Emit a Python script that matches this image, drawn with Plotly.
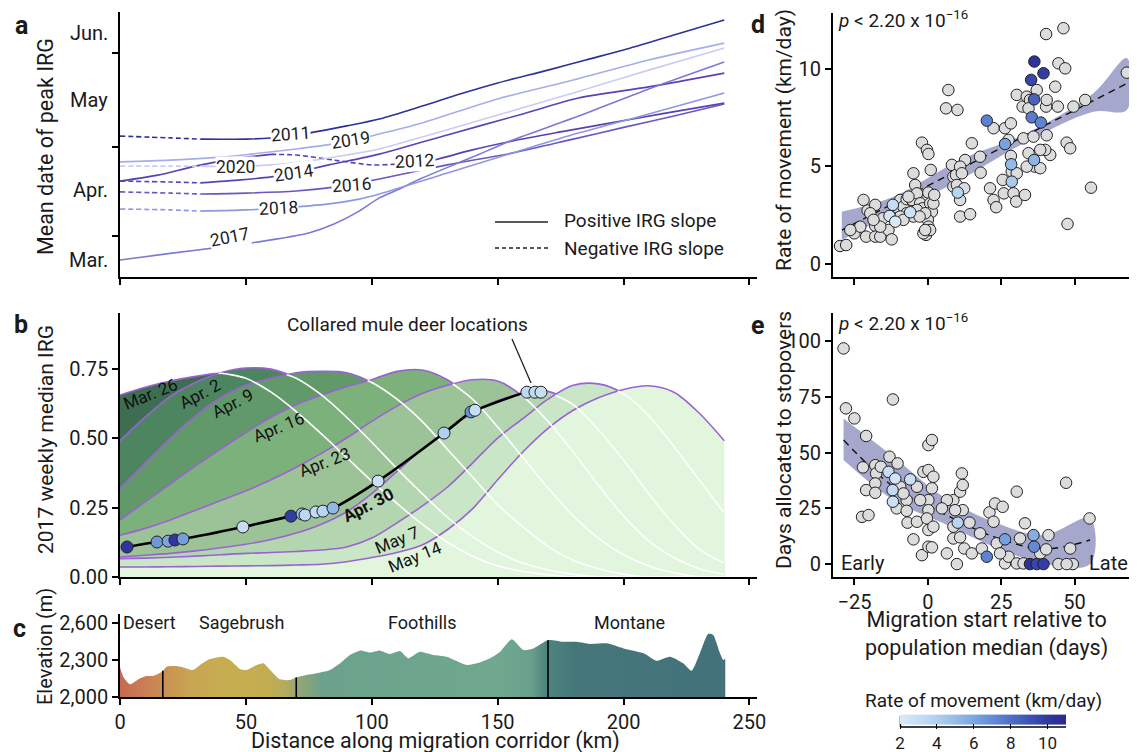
import numpy as np
import plotly.graph_objects as go

W, H = 1137, 752
OFF = 8  # page body margin offset of the plot div
def px(x): return (x - OFF) / W
def py(y): return 1 - (y - OFF) / H

FONT = "Roboto"
TXT = "#1a1a1a"

# ---------------- panel a : mean date of peak IRG (days after Mar. 1)
a_km_2011 = [0, 20, 32, 50, 65, 75, 90, 103, 120, 135, 150, 170, 185, 200, 220, 240]
a_day_2011 = [41.3, 40.7, 40.3, 40.3, 41.0, 42.3, 44.7, 47.0, 51.3, 55.3, 59.0, 63.3, 66.7, 70.0, 75.0, 80.0]
a_km_2012 = [0, 15, 30, 45, 60, 70, 85, 100, 110, 117, 125, 140, 156, 175, 195, 215, 240]
a_day_2012 = [26.3, 28.3, 31.3, 33.7, 35.2, 35.0, 33.3, 31.7, 32.0, 32.7, 33.3, 36.7, 39.7, 42.7, 45.7, 48.7, 52.3]
a_km_2014 = [0, 20, 32, 48, 60, 69, 83, 103, 130, 160, 182, 210, 240]
a_day_2014 = [26.3, 26.0, 25.7, 26.7, 27.7, 29.0, 31.7, 35.3, 41.7, 48.7, 54.0, 57.7, 62.3]
a_km_2016 = [0, 20, 32, 50, 70, 85, 95, 103, 130, 156, 180, 200, 220, 240]
a_day_2016 = [22.7, 22.3, 22.0, 22.3, 23.0, 24.3, 25.7, 27.0, 31.7, 35.7, 40.3, 44.2, 48.0, 52.0]
a_km_2017 = [0, 20, 40, 60, 75, 85, 95, 103, 110, 120, 140, 156, 180, 209, 240]
a_day_2017 = [0.0, 2.2, 4.3, 6.7, 9.0, 12.0, 16.3, 20.7, 23.3, 27.3, 34.3, 40.0, 47.3, 56.7, 66.0]
a_km_2018 = [0, 20, 32, 50, 63, 83, 95, 103, 130, 156, 182, 210, 240]
a_day_2018 = [17.0, 16.7, 16.3, 16.7, 17.3, 18.7, 20.3, 22.0, 29.0, 35.7, 42.3, 48.7, 55.7]
a_km_2019 = [0, 20, 40, 52, 70, 85, 95, 103, 120, 150, 180, 210, 240]
a_day_2019 = [32.7, 33.3, 34.3, 35.3, 37.0, 38.7, 40.3, 42.0, 45.7, 53.7, 60.0, 66.7, 72.3]
a_km_2020 = [0, 20, 32, 46, 60, 75, 90, 103, 120, 150, 180, 210, 240]
a_day_2020 = [31.3, 31.3, 31.3, 31.2, 31.7, 33.0, 35.0, 37.0, 41.0, 48.3, 55.7, 63.3, 70.7]
# stretches with negative IRG slope (dashed)
a_neg = {"2011": [(0, 32)], "2012": [(60, 125)], "2014": [(0, 32)], "2016": [(0, 32)],
         "2017": [], "2018": [(0, 32)], "2019": [], "2020": [(0, 32)]}
a_colors = {"2011": "#2e3196", "2012": "#5a40b2", "2014": "#5b42b6", "2016": "#6a55c2",
            "2017": "#7b79d6", "2018": "#8d98e1", "2019": "#a6aeea", "2020": "#c8cef3"}
a_labels = {"2011": (67.9, 42.0, -4), "2019": (91.7, 40.0, -9), "2020": (46.0, 31.0, 0),
            "2014": (69.0, 29.0, -8), "2016": (92.0, 25.0, -4), "2018": (63.0, 17.3, -3),
            "2017": (43.7, 7.7, -11), "2012": (117.0, 33.0, -3)}
a_tick_days = [8.0, 37.7, 69.0]
a_month_labels = ["Mar.", "Apr.", "May", "Jun."]
a_month_days = [0.0, 23.3, 53.3, 75.7]

a_series = {"2011": (a_km_2011, a_day_2011), "2012": (a_km_2012, a_day_2012),
            "2014": (a_km_2014, a_day_2014), "2016": (a_km_2016, a_day_2016),
            "2017": (a_km_2017, a_day_2017), "2018": (a_km_2018, a_day_2018),
            "2019": (a_km_2019, a_day_2019), "2020": (a_km_2020, a_day_2020)}

# ---------------- panel b : weekly median IRG along corridor (2017)
b_km = list(range(0, 250, 10))
b_weeks = ["Mar. 26", "Apr. 2", "Apr. 9", "Apr. 16", "Apr. 23", "Apr. 30", "May 7", "May 14"]
b_irg_mar26 = [0.655, 0.683, 0.705, 0.722, 0.733, 0.715, 0.665, 0.595, 0.515, 0.43, 0.345, 0.265, 0.19, 0.125, 0.075, 0.04, 0.02, 0.008, 0, 0, 0, 0, 0, 0, 0]
b_irg_apr2 = [0.49, 0.575, 0.65, 0.70, 0.735, 0.752, 0.748, 0.715, 0.655, 0.575, 0.485, 0.39, 0.30, 0.215, 0.145, 0.09, 0.05, 0.025, 0.01, 0, 0, 0, 0, 0, 0]
b_irg_apr9 = [0.32, 0.41, 0.50, 0.58, 0.645, 0.69, 0.715, 0.735, 0.74, 0.735, 0.70, 0.64, 0.56, 0.46, 0.36, 0.26, 0.18, 0.11, 0.06, 0.03, 0.01, 0, 0, 0, 0]
b_irg_apr16 = [0.205, 0.27, 0.335, 0.40, 0.46, 0.52, 0.575, 0.62, 0.655, 0.685, 0.71, 0.74, 0.745, 0.71, 0.64, 0.54, 0.43, 0.32, 0.22, 0.14, 0.08, 0.04, 0.015, 0, 0]
b_irg_apr23 = [0.15, 0.175, 0.205, 0.24, 0.275, 0.31, 0.35, 0.395, 0.445, 0.50, 0.56, 0.615, 0.66, 0.69, 0.71, 0.705, 0.65, 0.56, 0.45, 0.33, 0.22, 0.13, 0.07, 0.03, 0.01]
b_irg_apr30 = [0.072, 0.078, 0.085, 0.094, 0.105, 0.118, 0.135, 0.158, 0.19, 0.235, 0.30, 0.38, 0.46, 0.53, 0.59, 0.635, 0.66, 0.668, 0.62, 0.53, 0.42, 0.30, 0.19, 0.10, 0.05]
b_irg_may7 = [0.066, 0.068, 0.071, 0.075, 0.08, 0.085, 0.088, 0.092, 0.097, 0.108, 0.14, 0.195, 0.255, 0.323, 0.41, 0.50, 0.57, 0.64, 0.69, 0.695, 0.66, 0.58, 0.47, 0.35, 0.23]
b_irg_may14 = [0.036, 0.036, 0.037, 0.038, 0.039, 0.04, 0.041, 0.043, 0.046, 0.055, 0.07, 0.088, 0.115, 0.17, 0.245, 0.35, 0.45, 0.535, 0.60, 0.645, 0.675, 0.688, 0.665, 0.59, 0.49]
b_fill_colors = ["#3d6e52", "#4e8561", "#61996b", "#7db17c", "#9cc398", "#b3d5af", "#c9e7c6", "#e1f6dd"]
b_label_pos = [(12, 0.66, -22), (31.6, 0.66, -28), (45, 0.625, -27), (63, 0.54, -22),
               (81.4, 0.414, -21), (98.5, 0.26, -27), (110, 0.133, -22), (117, 0.072, -22)]
b_deer_km = [2.8, 14.7, 19.1, 21.8, 25.0, 48.8, 67.9, 72.3, 73.5, 77.8, 80.6, 84.6, 102.5, 128.7, 139.4, 141.0, 161.6, 164.8, 167.2]
b_deer_irg = [0.108, 0.126, 0.129, 0.133, 0.137, 0.180, 0.219, 0.227, 0.223, 0.234, 0.237, 0.248, 0.345, 0.518, 0.594, 0.600, 0.665, 0.665, 0.665]
b_deer_rate = [10.2, 6.5, 6.0, 10.0, 6.3, 3.0, 9.8, 5.0, 3.5, 3.2, 3.6, 5.2, 2.8, 4.0, 6.8, 3.0, 3.3, 3.2, 3.0]

# ---------------- panel c : elevation profile
c_km = [0, 1.3, 4, 8, 10.6, 13, 16.7, 18.5, 22.5, 26.5, 29, 31.8, 35.7, 41, 43.7, 47.7, 50.3, 54.3, 57, 59.6,
        63.5, 67.5, 70.2, 74, 78, 83.4, 87.4, 91.3, 95.3, 99.3, 103.3, 107.2, 111.2, 114.5, 119, 124.4, 129.7,
        137.7, 141.7, 147, 151, 155.6, 160.2, 164.2, 170.1, 176, 181.4, 186.7, 193.3, 200, 208, 213, 218.4,
        223.7, 227, 230.3, 233.6, 235.6, 238.3, 239.6, 240.4]
c_elev = [2241, 2165, 2103, 2152, 2170, 2170, 2205, 2246, 2251, 2232, 2219, 2260, 2308, 2327, 2300, 2227, 2219, 2260, 2273, 2219,
          2143, 2138, 2160, 2178, 2192, 2219, 2273, 2341, 2376, 2360, 2376, 2349, 2373, 2314, 2367, 2341, 2327,
          2260, 2273, 2314, 2367, 2468, 2381, 2394, 2462, 2448, 2448, 2430, 2435, 2394, 2354, 2294, 2327,
          2273, 2213, 2354, 2511, 2503, 2354, 2300, 2313]
c_zone_bounds = [17, 70, 170]
c_zones = ["Desert", "Sagebrush", "Foothills", "Montane"]
c_zone_x = [149, 241, 422, 629]
c_grad_km = [0, 8, 18, 28, 40, 58, 66, 72, 80, 150, 163, 169, 180, 240]
c_grad_col = ["#c66a52", "#c97a54", "#cb9053", "#c8a552", "#c6ad50", "#c4ad50", "#b3ab5e", "#8ea676",
              "#6ca28b", "#6fa78f", "#69a18c", "#4f8580", "#45777a", "#43727a"]

# ---------------- panel d : rate of movement vs migration start
d_grey_x = [-29.9, -27.8, -25.0, -21.9, -21.0, -20.5, -17.9, -17.9, -17.9, -16.2, -15.3, -13.4, -12.8, -12.3, -10.6, -9.4, -8.3, -7.2, -7.2, -5.4,
            -4.9, -4.3, -4.9, -3.7, -2.6, -1.8, -2.0, -0.3, 0.2, 0.2, 0.8, 1.0, 1.4, 0.0, 0.2, -0.6, 0.8, -1.5, 1.9, 2.2,
            7.0, 6.2, 10.1, 8.2, 8.7, 8.7, 9.6, 9.9, 11.0, 11.0, 12.4, 12.7, 14.4, 15.0, 17.8, 18.0, 21.2, 22.4, 23.3, 22.4,
            26.3, 28.3, 25.5, 28.3, 28.6, 25.9, 29.2, 30.1, 33.1, 30.3, 32.3, 33.7, 34.8, 32.6, 34.3, 36.0, 36.5, 38.3, 37.1, 40.3,
            40.3, 40.5, 41.7, 40.0, 43.4, 44.3, 46.2, 44.5, 46.8, 47.3, 48.5, 49.6, 53.6, 55.6, 47.6, 67.8,
            -6.6, -3.7, -0.9, -0.9, -2.8, -9.4, -8.3, -16.2, -19.6, -18.5, -23.0, -26.4, 11.0, 11.6, 27.5, 30.3, 33.7, 38.3, 40.5, 34.3]
d_grey_y = [0.92, 0.97, 1.57, 3.28, 1.40, 2.74, 3.03, 1.95, 1.40, 1.40, 2.34, 1.74, 2.46, 1.26, 2.91, 3.28, 2.94, 2.60, 3.32, 3.28,
            4.65, 4.05, 2.43, 3.62, 3.11, 2.85, 6.22, 5.85, 5.64, 3.66, 3.11, 4.82, 2.68, 2.26, 1.91, 1.49, 1.74, 1.57, 3.10, 3.54,
            8.92, 7.98, 7.90, 5.08, 3.97, 4.48, 4.56, 4.05, 3.28, 2.43, 3.88, 5.33, 2.55, 6.19, 5.50, 4.68, 3.88, 3.28, 2.91, 6.96,
            6.96, 7.21, 4.31, 5.54, 4.74, 3.62, 3.62, 3.20, 3.54, 8.67, 8.07, 8.58, 8.41, 6.44, 5.68, 6.53, 4.99, 4.91, 8.92, 11.79,
            8.07, 6.60, 5.59, 5.85, 9.09, 8.07, 12.09, 10.29, 10.03, 6.22, 5.93, 8.07, 8.41, 3.91, 2.05, 9.81,
            3.45, 2.77, 2.60, 1.74, 2.43, 2.43, 2.26, 1.91, 2.60, 2.26, 1.91, 1.74, 4.99, 4.65, 6.36, 4.65, 4.99, 5.85, 8.41, 7.98]
d_col_x = [-11.9, -13.05, -11.1, -6.0, 10.2, 20.1, 26.3, 28.4, 28.6, 36.3, 39.4, 35.2, 36.2, 35.4, 38.5, 36.2]
d_col_y = [3.03, 2.46, 2.17, 2.65, 3.66, 7.35, 6.15, 5.11, 4.22, 10.38, 9.78, 9.44, 8.44, 7.52, 7.25, 5.33]
d_fit_x = [-29.3, 67.8]
d_fit_y = [1.74, 9.26]
d_band_x = [-29.3, -11.7, 11.0, 33.7, 56.4, 67.8]
d_band_hi = [2.68, 3.45, 5.33, 6.70, 8.75, 10.55]
d_band_lo = [1.23, 2.60, 4.31, 6.27, 7.81, 7.90]

# ---------------- panel e : days at stopovers vs migration start
e_grey_x = [-28.7, -27.9, -25.0, -21.0, -22.1, -22.4, -20.2, -21.0, -17.9, -17.6, -17.9, -17.9, -13.05, -11.9, -10.3, -10.6, -9.4, -7.2, -7.2, -6.9,
            -4.9, -3.7, -3.7, -2.0, -1.5, 0.2, 0.2, 1.4, 1.9, 0.2, 0.2, -0.3, 0.2, 0.2, 1.4, 1.9, 1.4, 6.5, 8.7, 8.7,
            8.7, 9.9, 11.0, 11.6, 11.9, 11.9, 11.0, 12.4, 14.2, 15.0, 17.8, 18.4, 21.0, 22.4, 22.9, 25.5, 23.5, 26.3, 27.5, 30.3,
            31.4, 33.1, 30.3, 32.6, 38.3, 41.1, 40.3, 44.5, 47.1, 48.5, 49.4, 47.3, 55.1, 24.6, 6.5, 9.3, 4.8, -2.6, -8.3, -16.0]
e_grey_y = [96.8, 69.9, 65.4, 57.5, 43.4, 21.2, 22.0, 33.2, 44.4, 40.7, 36.2, 32.0, 48.2, 73.9, 45.2, 25.0, 34.7, 28.7, 23.9, 18.6,
            11.1, 19.0, 34.7, 4.0, 41.4, 42.2, 53.4, 55.7, 39.2, 28.7, 24.2, 20.5, 15.3, 7.8, 7.5, 16.8, 34.0, 4.8, 16.8, 28.7,
            11.5, 0.0, 32.5, 40.7, 35.5, 24.2, 12.0, 7.0, 18.6, 4.8, 13.8, 7.0, 23.2, 19.0, 27.2, 25.7, 9.3, 0.3, 3.3, 32.5,
            11.5, 18.3, 0.3, 0.3, 4.8, 13.0, 6.6, 0.0, 36.5, 7.0, 0.0, 0.0, 20.5, 4.8, 28.7, 24.2, 25.0, 28.7, 31.7, 43.7]
e_col_x = [-13.4, -11.1, -12.0, -11.9, -6.0, 10.2, 20.1, 26.3, 36.0, 36.2, 34.8, 37.1, 39.4]
e_col_y = [41.4, 38.4, 33.2, 28.0, 38.0, 18.6, 3.3, 11.1, 13.0, 7.8, 0.0, 0.0, 0.0]
e_col_rate = [3.0, 2.5, 3.2, 2.8, 2.9, 3.6, 7.3, 6.2, 5.6, 7.0, 10.4, 9.5, 9.8]
e_fit_x = [-28.7, -11.7, 5.3, 22.4, 39.4, 55.3]
e_fit_y = [55.7, 34.7, 22.7, 12.3, 6.8, 10.8]
e_band_x = [-28.7, -11.7, 5.3, 22.4, 39.4, 55.3]
e_band_hi = [65.4, 48.2, 30.2, 19.0, 13.0, 20.5]
e_band_lo = [46.7, 28.7, 18.3, 7.8, 0.3, 0.0]

RATE_SCALE = [[0.0, "#dcebf8"], [0.222, "#b0d0f0"], [0.444, "#7ba6e0"],
              [0.667, "#4f6fc6"], [0.889, "#3038a0"], [1.0, "#2b2a8c"]]
RATE_MIN, RATE_MAX = 2, 11

fig = go.Figure()

# ---------- panel a traces
def segments(km, val, neg):
    km = np.asarray(km, float); val = np.asarray(val, float)
    cuts = sorted(set([km[0], km[-1]] + [b for r in neg for b in r]))
    out = []
    for lo, hi in zip(cuts[:-1], cuts[1:]):
        m = (km >= lo) & (km <= hi)
        dashed = any(lo >= a and hi <= b for a, b in neg)
        out.append((km[m], val[m], dashed))
    return out

for yr, (km, dv) in a_series.items():
    for xs, ys, dashed in segments(km, dv, a_neg[yr]):
        fig.add_trace(go.Scatter(x=xs, y=ys, mode="lines", xaxis="x", yaxis="y",
                                 line=dict(color=a_colors[yr], width=1.6, shape="spline", smoothing=0.8,
                                           dash="5px,3px" if dashed else "solid"),
                                 hoverinfo="skip"))

# ---------- panel b traces
b_curves = [b_irg_mar26, b_irg_apr2, b_irg_apr9, b_irg_apr16, b_irg_apr23, b_irg_apr30, b_irg_may7, b_irg_may14]
PURPLE = "#9c62d3"
for curve, col in zip(b_curves, b_fill_colors):
    fig.add_trace(go.Scatter(x=b_km, y=curve, mode="lines", fill="tozeroy", fillcolor=col,
                             line=dict(color=PURPLE, width=1.6, shape="spline", smoothing=0.9),
                             xaxis="x2", yaxis="y2", hoverinfo="skip"))

def hidden_path(x, y, env):
    xs, ys = [], []
    d = [a - b for a, b in zip(y, env)]
    for k in range(len(x)):
        if k > 0 and ((d[k - 1] < 0) != (d[k] < 0)):
            t = d[k - 1] / (d[k - 1] - d[k])
            xs.append(x[k - 1] + t * (x[k] - x[k - 1]))
            ys.append(y[k - 1] + t * (y[k] - y[k - 1]))
            if d[k] >= 0:
                xs.append(None); ys.append(None)
        if d[k] < 0:
            xs.append(x[k]); ys.append(y[k])
    return xs, ys

for i in range(len(b_curves) - 1):
    env = np.max(np.array(b_curves[i + 1:]), axis=0)
    hx, hy = hidden_path(b_km, b_curves[i], env)
    fig.add_trace(go.Scatter(x=hx, y=hy, mode="lines", connectgaps=False,
                             line=dict(color="white", width=1.6, shape="spline", smoothing=0.9),
                             xaxis="x2", yaxis="y2", hoverinfo="skip"))

fig.add_trace(go.Scatter(x=b_deer_km, y=b_deer_irg, mode="lines",
                         line=dict(color="black", width=2.6, shape="spline", smoothing=0.8),
                         xaxis="x2", yaxis="y2", hoverinfo="skip"))
fig.add_trace(go.Scatter(x=b_deer_km, y=b_deer_irg, mode="markers",
                         marker=dict(size=12, color=b_deer_rate, colorscale=RATE_SCALE, cmin=RATE_MIN, cmax=RATE_MAX,
                                     line=dict(color="#222", width=1)),
                         xaxis="x2", yaxis="y2", hoverinfo="skip"))

# ---------- panel c traces
c_scale = [[k / c_grad_km[-1], c] for k, c in zip(c_grad_km, c_grad_col)]
fig.add_trace(go.Scatter(x=c_km, y=c_elev, mode="lines", fill="tozeroy",
                         fillgradient=dict(type="horizontal", colorscale=c_scale, start=0, stop=c_grad_km[-1]),
                         line=dict(width=0, color="rgba(0,0,0,0)", shape="spline", smoothing=0.6),
                         xaxis="x3", yaxis="y3", hoverinfo="skip"))

# ---------- panel d traces
BAND = "#a6a7cc"
fig.add_trace(go.Scatter(x=d_band_x + d_band_x[::-1], y=d_band_hi + d_band_lo[::-1], fill="toself",
                         fillcolor=BAND, line=dict(width=0, shape="spline"), mode="lines",
                         xaxis="x4", yaxis="y4", hoverinfo="skip"))
fig.add_trace(go.Scatter(x=d_fit_x, y=d_fit_y, mode="lines", line=dict(color="#111", width=1.4, dash="7px,5px"),
                         xaxis="x4", yaxis="y4", hoverinfo="skip"))
fig.add_trace(go.Scatter(x=d_grey_x, y=d_grey_y, mode="markers",
                         marker=dict(size=11.5, color="#dcdcdc", line=dict(color="#222", width=1)),
                         xaxis="x4", yaxis="y4", hoverinfo="skip"))
fig.add_trace(go.Scatter(x=d_col_x, y=d_col_y, mode="markers",
                         marker=dict(size=11.5, color=d_col_y, colorscale=RATE_SCALE, cmin=RATE_MIN, cmax=RATE_MAX,
                                     line=dict(color="#222", width=1),
                                     colorbar=dict(orientation="h", x=px(983), xanchor="center", xref="paper",
                                                   y=py(754), yanchor="bottom", yref="paper", ypad=0, xpad=0,
                                                   len=166 / W, lenmode="fraction", thickness=10,
                                                   outlinewidth=0, tickvals=[2, 4, 6, 8, 10],
                                                   ticks="outside", ticklen=5, tickcolor="black", tickwidth=1.3,
                                                   tickfont=dict(size=17, family=FONT, color=TXT))),
                         xaxis="x4", yaxis="y4", hoverinfo="skip"))

# ---------- panel e traces
fig.add_trace(go.Scatter(x=e_band_x + e_band_x[::-1], y=e_band_hi + e_band_lo[::-1], fill="toself",
                         fillcolor=BAND, line=dict(width=0, shape="spline"), mode="lines",
                         xaxis="x5", yaxis="y5", hoverinfo="skip"))
fig.add_trace(go.Scatter(x=e_fit_x, y=e_fit_y, mode="lines",
                         line=dict(color="#111", width=1.4, dash="7px,5px", shape="spline"),
                         xaxis="x5", yaxis="y5", hoverinfo="skip"))
fig.add_trace(go.Scatter(x=e_grey_x, y=e_grey_y, mode="markers",
                         marker=dict(size=11.5, color="#dcdcdc", line=dict(color="#222", width=1)),
                         xaxis="x5", yaxis="y5", hoverinfo="skip"))
fig.add_trace(go.Scatter(x=e_col_x, y=e_col_y, mode="markers",
                         marker=dict(size=11.5, color=e_col_rate, colorscale=RATE_SCALE, cmin=RATE_MIN, cmax=RATE_MAX,
                                     line=dict(color="#222", width=1)),
                         xaxis="x5", yaxis="y5", hoverinfo="skip"))

# ---------- axes
def ax(domain, rng, **kw):
    base = dict(domain=domain, range=rng, showline=True, linecolor="black", linewidth=1.5,
                ticks="outside", ticklen=6, tickwidth=1.5, tickcolor="black", showgrid=False,
                zeroline=False, automargin=False, tickfont=dict(size=20, family=FONT, color=TXT),
                fixedrange=True)
    base.update(kw)
    return base

XL = [px(120), px(757)]
XR = [px(832.7), px(1133)]
lay = dict(
    xaxis=ax(XL, [0, 253], anchor="y", tickvals=[0, 50, 100, 150, 200, 250], showticklabels=False),
    yaxis=ax([py(277), py(12)], [-5.67, 82.67], anchor="x", tickvals=a_tick_days, showticklabels=False),
    xaxis2=ax(XL, [0, 253], anchor="y2", tickvals=[0, 50, 100, 150, 200, 250], showticklabels=False),
    yaxis2=ax([py(577), py(313)], [0, 0.95], anchor="x2", tickvals=[0, 0.25, 0.5, 0.75],
              ticktext=["0.00", "0.25", "0.50", "0.75"]),
    xaxis3=ax(XL, [0, 253], anchor="y3", tickvals=[0, 50, 100, 150, 200, 250]),
    yaxis3=ax([py(697), py(614)], [2000, 2673], anchor="x3", tickvals=[2000, 2300, 2600],
              ticktext=["2,000", "2,300", "2,600"]),
    xaxis4=ax(XR, [-32.4, 69.9], anchor="y4", tickvals=[-25, 0, 25, 50], showticklabels=False),
    yaxis4=ax([py(277), py(13)], [-0.67, 12.87], anchor="x4", tickvals=[0, 5, 10]),
    xaxis5=ax(XR, [-32.4, 69.9], anchor="y5", tickvals=[-25, 0, 25, 50]),
    yaxis5=ax([py(577), py(313)], [-5.8, 112.7], anchor="x5", tickvals=[0, 25, 50, 75, 100]),
)

ann = []
def T(x, y, text, size=19, xanchor="center", yanchor="middle", angle=0, **kw):
    d = dict(x=x, y=y, xref="paper", yref="paper", text=text, showarrow=False, xanchor=xanchor,
             yanchor=yanchor, textangle=angle, font=dict(size=size, family=FONT, color=TXT))
    d.update(kw)
    ann.append(d)

# panel letters
for letter, (lx, ly) in {"a": (21, 26), "b": (21, 324), "c": (19, 628), "d": (758, 24), "e": (758, 325)}.items():
    T(px(lx), py(ly), f"<b>{letter}</b>", size=25)

# axis titles
T(px(45), py(147), "Mean date of peak IRG", size=21.5, angle=-90)
T(px(46), py(440), "2017 weekly median IRG", size=21, angle=-90)
T(px(45), py(647), "Elevation (m)", size=20, angle=-90)
T(px(435), py(741), "Distance along migration corridor (km)", size=21.5)
T(px(784), py(140), "Rate of movement (km/day)", size=21, angle=-90)
T(px(784), py(440), "Days allocated to stopovers", size=21, angle=-90)
T(px(986), py(634), "Migration start relative to<br>population median (days)", size=21.5)
T(px(983), py(700), "Rate of movement (km/day)", size=19)

# panel a month labels
for lab, dday in zip(a_month_labels, a_month_days):
    ann.append(dict(x=px(110), xref="paper", y=dday, yref="y", text=lab, showarrow=False,
                    xanchor="right", yanchor="middle", font=dict(size=20, family=FONT, color=TXT)))
# panel a year labels
for yr, (lx, ly, ang) in a_labels.items():
    ann.append(dict(x=lx, y=ly, xref="x", yref="y", text=yr, showarrow=False, textangle=ang,
                    bgcolor="white", borderpad=0, font=dict(size=17.5, family=FONT, color="#222")))
# legend
T(px(562), py(221), "Positive IRG slope", size=19, xanchor="left")
T(px(562), py(248), "Negative IRG slope", size=19, xanchor="left")

# panel b labels
for wk, (lx, ly, ang) in zip(b_weeks, b_label_pos):
    txt = f"<b>{wk}</b>" if wk == "Apr. 30" else wk
    ann.append(dict(x=lx, y=ly, xref="x2", yref="y2", text=txt, showarrow=False, textangle=ang,
                    font=dict(size=17, family=FONT, color="#111")))
T(px(407), py(324), "Collared mule deer locations", size=19)

# panel c zone labels
for z, zx in zip(c_zones, c_zone_x):
    T(px(zx), py(622), z, size=18)

# p-values, early/late
T(px(836), py(19), "<i>p</i> < 2.20 x 10<sup>−16</sup>", size=19, xanchor="left")
T(px(836), py(322), "<i>p</i> < 2.20 x 10<sup>−16</sup>", size=19, xanchor="left")
T(px(839), py(563), "Early", size=20, xanchor="left")
T(px(1130), py(563), "Late", size=20, xanchor="right")

shapes = []
# legend samples
shapes.append(dict(type="line", xref="paper", yref="paper", x0=px(495), x1=px(548), y0=py(222), y1=py(222),
                   line=dict(color="#222", width=1.5)))
shapes.append(dict(type="line", xref="paper", yref="paper", x0=px(495), x1=px(548), y0=py(248), y1=py(248),
                   line=dict(color="#222", width=1.5, dash="4px,3px")))
# annotation leader line
shapes.append(dict(type="line", xref="paper", yref="paper", x0=px(512), x1=px(531), y0=py(339), y1=py(383),
                   line=dict(color="#222", width=1.3)))
# zone boundaries in panel c
for zb in c_zone_bounds:
    shapes.append(dict(type="line", xref="x3", yref="y3", x0=zb, x1=zb, y0=2000,
                       y1=float(np.interp(zb, c_km, c_elev)), line=dict(color="black", width=1.6)))
# colorbar base line
shapes.append(dict(type="line", xref="paper", yref="paper", x0=px(900), x1=px(1066), y0=py(727), y1=py(727),
                   line=dict(color="black", width=1.5)))
shapes.append(dict(type="line", xref="paper", yref="paper", x0=px(900.5), x1=px(900.5), y0=py(727), y1=py(716),
                   line=dict(color="black", width=1.5)))

fig.update_layout(width=W, height=H, margin=dict(l=0, r=0, t=0, b=0, pad=0, autoexpand=False), showlegend=False,
                  plot_bgcolor="white", paper_bgcolor="white", annotations=ann, shapes=shapes,
                  font=dict(family=FONT, color=TXT), **lay)

fig.write_html("out.html")
